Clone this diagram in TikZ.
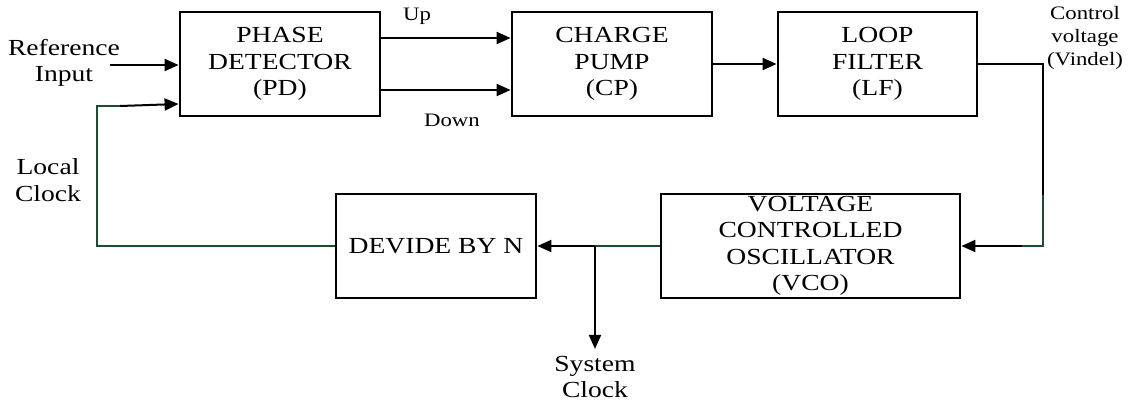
\documentclass[tikz,border=0pt]{standalone}
\usepackage{fontspec}
\setmainfont{Liberation Serif}[FakeStretch=1.2]
\usepackage{xcolor}
\usetikzlibrary{arrows.meta,positioning}
\definecolor{loopgreen}{RGB}{30,75,45}

\begin{document}
\begin{tikzpicture}[
  x=0.5pt, y=-0.5pt,
  font=\fontsize{11.5}{13.25}\selectfont,
  blk/.style={rectangle, draw, line width=1.4pt, minimum width=100pt, minimum height=52pt, align=center, inner sep=0pt},
  lbl/.style={align=center},
  small/.style={font=\fontsize{9.5}{11.5}\selectfont, align=center},
  arr/.style={-{Triangle[length=7pt,width=6pt]}, line width=1pt},
  fb/.style={line width=1pt, draw=loopgreen}
]
  \useasboundingbox (0,0) rectangle (1131,402);
  % forward path
  \node[blk] (pd) at (280,64) {PHASE\\DETECTOR\\(PD)};
  \node[blk] (cp) at (612,64) {CHARGE\\PUMP\\(CP)};
  \node[blk, minimum width=99.5pt] (lf) at (877.5,64) {LOOP\\FILTER\\(LF)};
  \node[blk, minimum width=149.5pt] (vco) at (810.5,246) {VOLTAGE\\CONTROLLED\\OSCILLATOR\\(VCO)};
  \node[blk] (div) at (436,246) {DEVIDE BY N};
  % labels
  \node[lbl] (ref) at (64,63) {Reference\\Input};
  \node[lbl] (lclk) at (48,180) {Local\\Clock};
  \node[lbl] (sysclk) at (595,377) {System\\Clock};
  \node[small] (up) at (417,16) {Up};
  \node[small] (down) at (452,120) {Down};
  \node[small] (ctrl) at (1085,38) {Control\\voltage\\(Vindel)};
  % helper points
  \coordinate (refin) at (110,65);
  \coordinate (lc) at (97,106);
  \coordinate (lcg) at (120,106);
  \coordinate (vt) at (1043,64);
  \coordinate (vg) at (1043,195);
  \coordinate (vb) at (1022,246);
  \coordinate (tap) at (595,246);
  % connectors
  \draw[arr] (refin) -- (pd.west |- refin);
  \draw[arr] ([yshift=13pt]pd.east) -- ([yshift=13pt]cp.west);
  \draw[arr] ([yshift=-13pt]pd.east) -- ([yshift=-13pt]cp.west);
  \draw[arr] (cp.east) -- (lf.west);
  \draw[line width=1pt] (lf.east) -- (vt) -- (vg);
  \draw[fb] (vg) |- (vb);
  \draw[arr] (vb) -- (vco.east);
  \draw[fb] (vco.west) -- (tap);
  \draw[arr] (tap) -- (div.east);
  \draw[arr] (tap) -- (sysclk.north);
  \draw[fb] (div.west) -| (lc) -- (lcg);
  \draw[arr] (lcg) -- ([yshift=1pt]pd.west |- lcg);
\end{tikzpicture}
\end{document}
